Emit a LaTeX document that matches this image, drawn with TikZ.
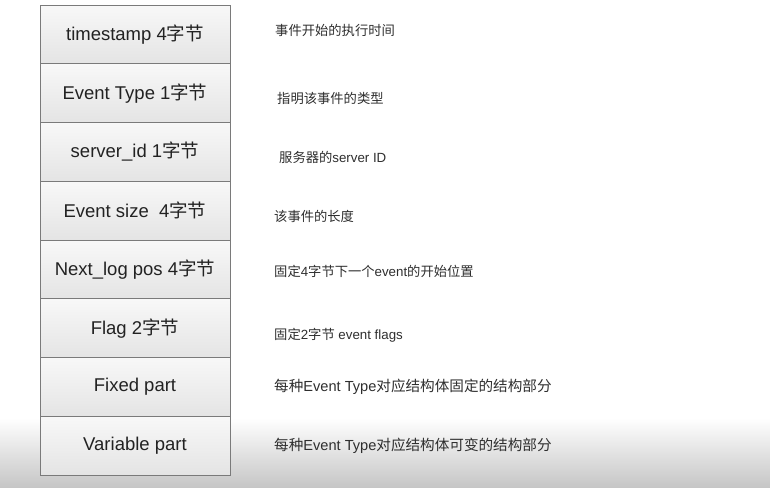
\documentclass[tikz,border=0pt]{standalone}
\usepackage{fontspec}
\usetikzlibrary{positioning}
\setmainfont{Liberation Sans}
\newfontfamily\cjk{Noto Sans CJK SC}
\definecolor{boxline}{HTML}{7A7A7A}
\definecolor{boxtop}{HTML}{F8F8F8}
\definecolor{boxbot}{HTML}{E4E4E4}
\definecolor{txt}{HTML}{222222}
\definecolor{desctxt}{HTML}{2E2E2E}
\definecolor{shadebot}{HTML}{C6C6C6}
\begin{document}
\begin{tikzpicture}[x=1pt,y=-1pt,
  fieldbox/.style={draw=boxline, line width=1pt, top color=boxtop, bottom color=boxbot,
    minimum width=190pt, minimum height=58.75pt, outer sep=0pt, inner sep=0pt,
    text=txt, font=\fontsize{18.5}{20}\selectfont},
  desc/.style={anchor=west, inner sep=0pt, text=desctxt, font=\fontsize{13.3}{15}\selectfont},
  descbig/.style={desc, font=\fontsize{14.6}{16}\selectfont}]
\useasboundingbox (0,0) rectangle (770,487);
\shade[top color=white, bottom color=shadebot] (0,418) rectangle (770,487);
\node[fieldbox] (b1) at (135,34.4) {timestamp 4{\cjk 字节}};
\node[fieldbox, below=0pt of b1] (b2) {Event Type 1{\cjk 字节}};
\node[fieldbox, below=0pt of b2] (b3) {server\_id 1{\cjk 字节}};
\node[fieldbox, below=0pt of b3] (b4) {Event size\ \ 4{\cjk 字节}};
\node[fieldbox, below=0pt of b4] (b5) {Next\_log pos 4{\cjk 字节}};
\node[fieldbox, below=0pt of b5] (b6) {Flag 2{\cjk 字节}};
\node[fieldbox, below=0pt of b6] (b7) {Fixed part};
\node[fieldbox, below=0pt of b7] (b8) {Variable part};
\node[desc] (d1) at (275,30) {\cjk 事件开始的执行时间};
\node[desc] (d2) at (277,98) {\cjk 指明该事件的类型};
\node[desc] (d3) at (279,157) {{\cjk 服务器的}server ID};
\node[desc] (d4) at (274,216) {\cjk 该事件的长度};
\node[desc] (d5) at (274,271) {{\cjk 固定}4{\cjk 字节下一个}event{\cjk 的开始位置}};
\node[desc] (d6) at (274,335) {{\cjk 固定}2{\cjk 字节} event flags};
\node[descbig] (d7) at (274,387) {{\cjk 每种}Event Type{\cjk 对应结构体固定的结构部分}};
\node[descbig] (d8) at (274,446) {{\cjk 每种}Event Type{\cjk 对应结构体可变的结构部分}};
\end{tikzpicture}
\end{document}
